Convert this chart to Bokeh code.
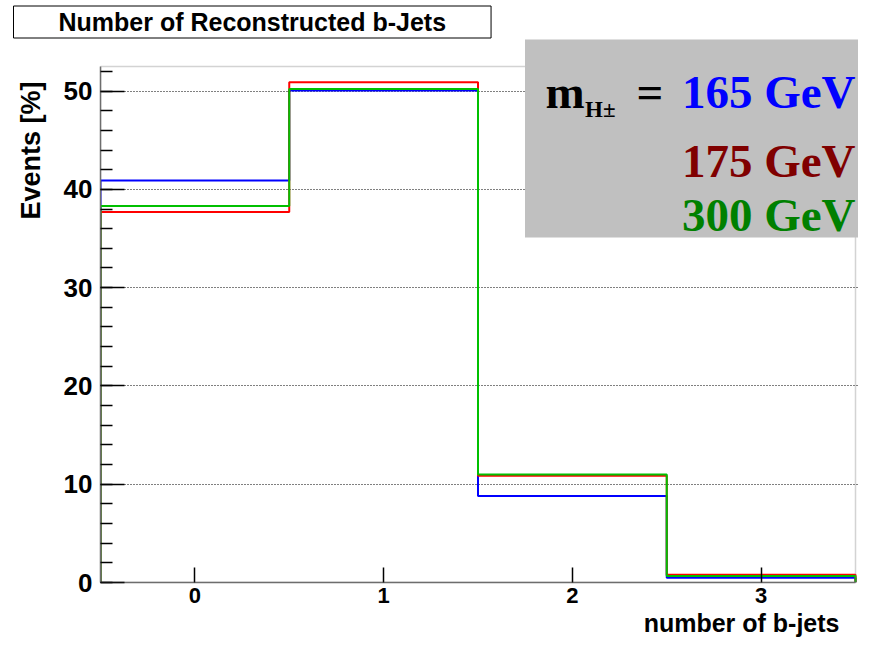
import numpy as np
from bokeh.plotting import figure
from bokeh.models import Range1d, FixedTicker, SingleIntervalTicker, Label, BoxAnnotation, Title
from bokeh.embed import file_html
from bokeh.resources import INLINE

# ---- data ----
bin_centers = [0, 1, 2, 3]
bin_edges = [-0.5, 0.5, 1.5, 2.5, 3.5]
events_165 = [40.9, 50.05, 8.8, 0.48]
events_175 = [37.7, 50.9, 10.85, 0.8]
events_300 = [38.3, 50.2, 11.0, 0.65]
series_labels = ["165 GeV", "175 GeV", "300 GeV"]
line_colors = ["#0000ff", "#ff0000", "#00c000"]
text_colors = ["#0000ff", "#800000", "#008000"]
title_text = "Number of Reconstructed b-Jets"
x_label = "number of b-jets"
y_label = "Events [%]"
x_ticks = [0, 1, 2, 3]
y_top = 52.5

# ---- layout (canvas pixels) ----
W, H = 858, 642
FL, FB = 100, 582          # data frame left / bottom
DR, DT = 855, 66           # data frame right / top (outline)
CT = 38                    # top of clip frame (below the title)


def dx(cx):
    return -0.5 + (cx - FL) / (DR - FL) * 4.0


def dy(cy):
    return y_top * (FB - cy) / (FB - DT)


p = figure(width=W, height=H,
           x_range=Range1d(-0.5, dx(W)), y_range=Range1d(0, dy(CT)),
           output_backend="svg", toolbar_location=None,
           min_border_left=FL, min_border_right=0, min_border_top=CT,
           min_border_bottom=H - FB, background_fill_color="white",
           border_fill_color="white")
p.outline_line_color = None

yt = SingleIntervalTicker(interval=10, num_minor_ticks=5)
p.yaxis.ticker = yt
p.ygrid.ticker = yt
p.xaxis.ticker = FixedTicker(ticks=x_ticks)
p.xaxis.bounds = (-0.5, 3.5)
p.yaxis.bounds = (0, y_top)
p.xgrid.visible = False
p.ygrid.grid_line_color = "black"
p.ygrid.grid_line_dash = "1 2"
p.ygrid.grid_line_width = 1

for ax in (p.xaxis, p.yaxis):
    ax.axis_line_color = "#6e6e6e"
    ax.axis_line_width = 1.5
    ax.major_tick_line_color = "black"
    ax.minor_tick_line_color = "black"
    ax.major_tick_line_width = 1.5
    ax.minor_tick_line_width = 1.5
    ax.major_tick_out = 0
    ax.minor_tick_out = 0
    ax.major_label_text_font = "Liberation Sans"
    ax.major_label_text_font_style = "bold"
    ax.major_label_text_color = "black"

p.xaxis.major_tick_in = 15
p.xaxis.minor_tick_in = 0
p.xaxis.major_label_text_font_size = "22px"
p.xaxis.major_label_standoff = 5
p.yaxis.major_tick_in = 24
p.yaxis.minor_tick_in = 12
p.yaxis.major_label_text_font_size = "26px"
p.yaxis.major_label_standoff = 8

# data frame outline
p.add_layout(BoxAnnotation(left=-0.5, right=3.5, bottom=0, top=y_top,
                           fill_alpha=0, line_color="#6e6e6e", line_width=1.5))


def outline(vals):
    xs = np.repeat(bin_edges, 2)
    ys = np.concatenate([[0.0], np.repeat(vals, 2), [0.0]])
    return xs, ys


for vals, col in zip([events_165, events_175, events_300], line_colors):
    xs, ys = outline(vals)
    p.line(xs, ys, line_color=col, line_width=2)

# title (boxed)
p.add_layout(Title(text=title_text, align="left", offset=-87, standoff=1,
                   text_font="Liberation Sans", text_font_style="bold",
                   text_font_size="25px", text_color="black",
                   background_fill_color="white", border_line_color="black",
                   border_line_width=1,
                   padding=dict(left=45, right=45, top=2, bottom=2)), "above")

# axis titles
p.add_layout(Title(text=y_label, align="right", vertical_align="top", offset=43,
                   standoff=26, text_font="Liberation Sans", text_font_style="bold",
                   text_font_size="27px", text_color="black"), "left")
p.add_layout(Title(text=x_label, align="right", offset=19, standoff=2,
                   text_font="Liberation Sans", text_font_style="bold",
                   text_font_size="25px", text_color="black"), "below")

# legend box
p.add_layout(BoxAnnotation(left=dx(524.5), right=dx(W + 4), top=dy(38.9), bottom=dy(237),
                           fill_color="#c0c0c0", fill_alpha=1, line_color=None))
serif = "Liberation Serif"
p.add_layout(Label(x=dx(545), y=dy(91), text="m", text_align="left",
                   text_baseline="alphabetic", text_font=serif, text_font_style="bold",
                   text_font_size="47px", text_color="black"))
p.add_layout(Label(x=dx(584.5), y=dy(109), text="H±", text_align="left",
                   text_baseline="alphabetic", text_font=serif, text_font_style="bold",
                   text_font_size="23px", text_color="black"))
p.add_layout(Label(x=dx(636), y=dy(91), text="=", text_align="left",
                   text_baseline="alphabetic", text_font=serif, text_font_style="bold",
                   text_font_size="47px", text_color="black"))
for lab, col, cy in zip(series_labels, text_colors, [91, 160, 214]):
    p.add_layout(Label(x=dx(855), y=dy(cy), text=lab, text_align="right",
                       text_baseline="alphabetic", text_font=serif,
                       text_font_style="bold", text_font_size="47px", text_color=col))

open("out.html", "w").write(file_html(p, INLINE))
